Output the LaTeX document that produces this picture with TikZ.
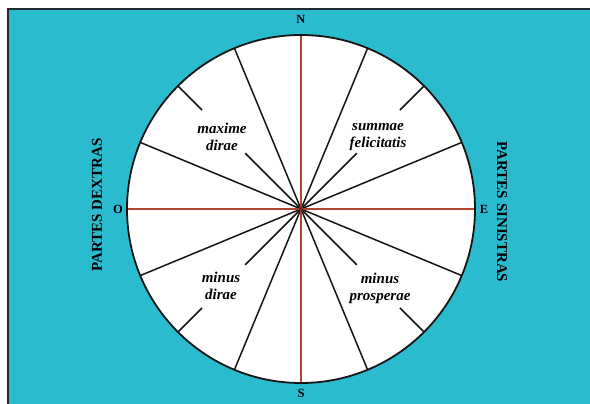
\documentclass[tikz,border=0pt]{standalone}
\usepackage{fontspec}
\setmainfont{Liberation Serif}
\usetikzlibrary{calc}
\definecolor{sky}{HTML}{2ABCCE}
\definecolor{frame}{HTML}{1E2A2E}
\definecolor{meridian}{HTML}{B4442E}
\definecolor{spoke}{HTML}{151515}

\begin{document}
\begin{tikzpicture}[x=1pt,y=1pt,
    spokeline/.style={spoke,line width=1.5pt},
    axisline/.style={meridian,line width=1.5pt},
    cardinal/.style={font=\bfseries\fontsize{12.5}{13}\selectfont},
    region/.style={font=\bfseries\itshape\fontsize{15}{17}\selectfont,align=center,inner sep=0pt},
    side/.style={font=\bfseries\fontsize{15}{16}\selectfont,inner sep=0pt}]
  \useasboundingbox (0,0) rectangle (590,404);
  \path[fill=white] (0,0) rectangle (590,404);
  \path[fill=sky] (8,0) rectangle (590,395);
  \draw[frame,line width=2.4pt] (8,0) -- (8,395) -- (590,395);

  % The templum: disc with its sixteen regions.
  \coordinate (c) at (301,195);
  \fill[white] (c) circle (174);

  % Full radii between the regions.
  \foreach \a in {22.5,67.5,...,337.5}
    \draw[spokeline] (c) -- ($(c)+(\a:174)$);
  % Diagonals, broken where the names stand.
  \foreach \a in {45,135,225,315} {
    \draw[spokeline] (c) -- ($(c)+(\a:79)$);
    \draw[spokeline] ($(c)+(\a:140)$) -- ($(c)+(\a:174)$);
  }

  % Cardinal axes.
  \node[cardinal] (n) at (301,385) {N};
  \node[cardinal] (s) at (301,11) {S};
  \node[cardinal] (o) at (118,195) {O};
  \node[cardinal] (e) at (484,195) {E};
  \draw[axisline] ($(c)+(0,174)$) -- ($(c)+(0,-174)$);
  \draw[axisline] ($(c)+(-174,0)$) -- ($(c)+(174,0)$);
  \fill[meridian!60!black] (c) circle (2.4);
  \draw[spoke,line width=1.8pt] (c) circle (174);

  % Names of the regions.
  \node[region] (maxdir) at ($(c)+(-79,72)$) {maxime\\dirae};
  \node[region] (sumfel) at ($(c)+(77,72)$) {summae\\felicitatis};
  \node[region] (mindir) at ($(c)+(-80,-77)$) {minus\\dirae};
  \node[region] (minpro) at ($(c)+(79,-79)$) {minus\\prosperae};

  % Left and right halves.
  \node[side,rotate=90] (dextras) at (97,199) {PARTES DEXTRAS};
  \node[side,rotate=-90] (sinistras) at (502,192) {PARTES SINISTRAS};
\end{tikzpicture}
\end{document}
